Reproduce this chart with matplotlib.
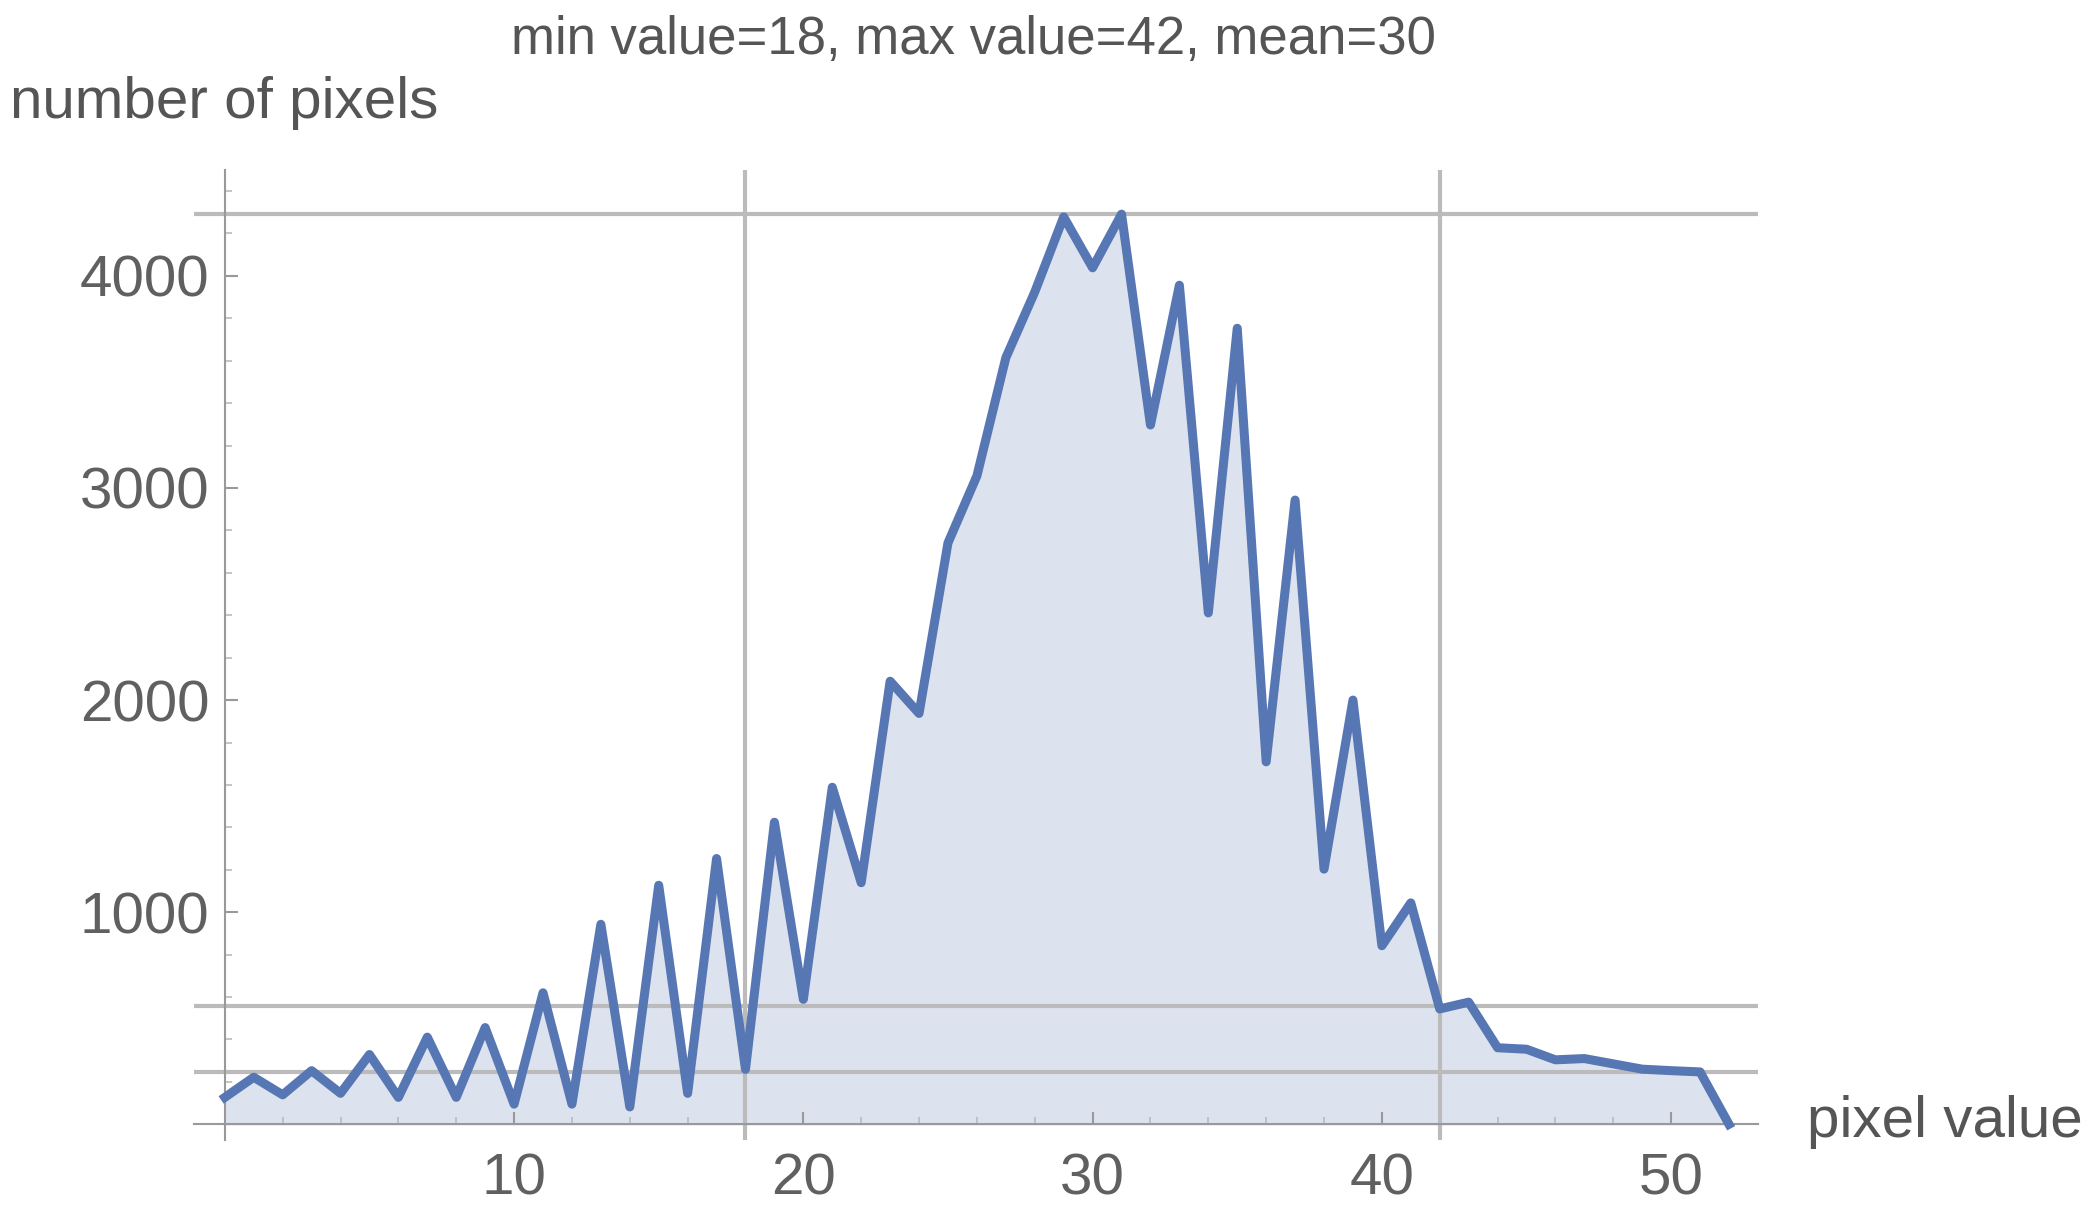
import matplotlib
matplotlib.use("Agg")
import matplotlib.pyplot as plt
import numpy as np

pixel_value = list(range(53))
counts = [127,222,139,253,146,329,127,411,127,456,95,620,95,943,82,1127,146,1253,259,1424,
          589,1589,1139,2089,1937,2741,3057,3614,3924,4278,4038,4291,3297,3956,2411,3753,1709,2943,1203,2000,
          842,1044,544,576,361,354,304,310,285,260,253,247,0]
vlines = [18, 42]
hlines = [4291, 557, 247]
title = "min value=18, max value=42, mean=30"

plt.rcParams['font.family'] = ['Liberation Sans', 'DejaVu Sans']
fig = plt.figure(figsize=(20.99, 12.13), dpi=100)
ax = fig.add_axes([0.0925, 0.06, 0.745, 0.80])
col = '#5677b4'
ax.fill_between(pixel_value, counts, 0, color='#dde3ee', zorder=1)
ax.plot(pixel_value, counts, color=col, lw=6.5, zorder=3, solid_joinstyle='round')
for v in vlines:
    ax.axvline(v, color='#bbbbbb', lw=3, zorder=2)
for h in hlines:
    ax.axhline(h, color='#bbbbbb', lw=3, zorder=2)
ax.set_xlim(-1.06, 53)
ax.set_ylim(-75, 4500)
for s in ['top', 'right']:
    ax.spines[s].set_visible(False)
ax.spines['left'].set_position(('data', 0))
ax.spines['bottom'].set_position(('data', 0))
for s in ['left', 'bottom']:
    ax.spines[s].set_color('#999999'); ax.spines[s].set_linewidth(1.5)
ax.set_xticks([10, 20, 30, 40, 50])
ax.set_xticks(np.arange(2, 53, 2), minor=True)
ax.set_yticks([1000, 2000, 3000, 4000])
ax.set_yticks(np.arange(200, 4500, 200), minor=True)
ax.tick_params(axis='both', which='major', labelsize=42, colors='#999999', labelcolor='#606060', length=9, width=1.5, direction='in')
ax.tick_params(axis='both', which='minor', colors='#bbbbbb', length=5, width=1.2, direction='in')
ax.tick_params(axis='x', pad=20)
ax.tick_params(axis='y', pad=11)
fig.text(0.464, 0.967, title, fontsize=38, color='#555555', ha='center', va='center')
fig.text(0.005, 0.915, "number of pixels", fontsize=42, color='#555555', ha='left', va='center')
fig.text(0.861, 0.075, "pixel value", fontsize=42, color='#555555', ha='left', va='center')
fig.savefig("out.png", dpi=100, facecolor='white')
